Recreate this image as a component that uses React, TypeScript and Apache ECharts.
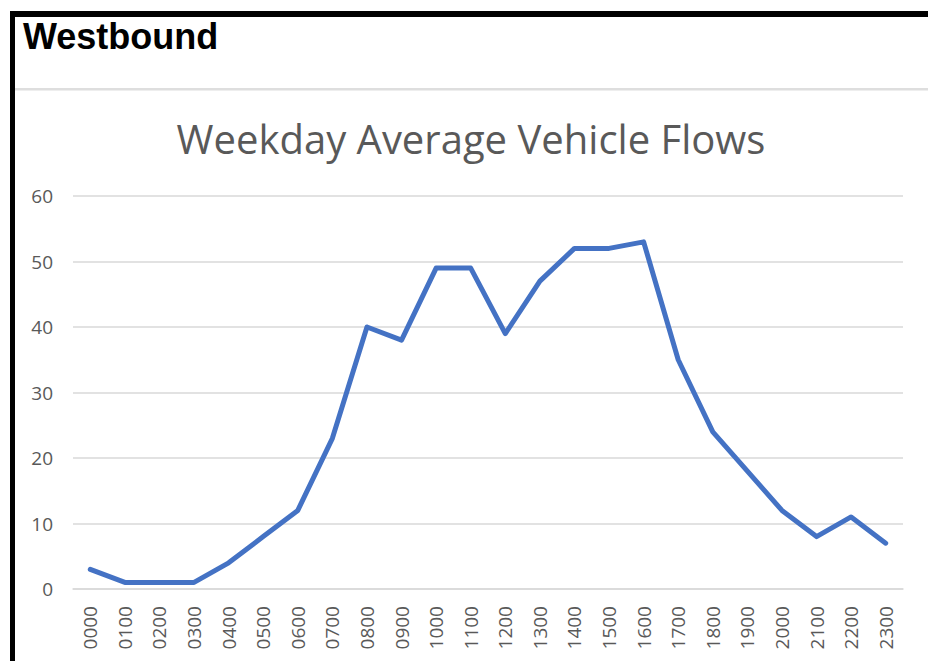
import React, { useEffect, useRef } from "react";
import * as echarts from "echarts";

const hours = ["0000","0100","0200","0300","0400","0500","0600","0700","0800","0900","1000","1100","1200","1300","1400","1500","1600","1700","1800","1900","2000","2100","2200","2300"];
const flows = [3, 1, 1, 1, 4, 8, 12, 23, 40, 38, 49, 49, 39, 47, 52, 52, 53, 35, 24, 18, 12, 8, 11, 7];
const yTicks = [0, 10, 20, 30, 40, 50, 60];

const headerText = "Westbound";
const chartTitle = "Weekday Average Vehicle Flows";

export default function App() {
  const ref = useRef<HTMLDivElement>(null);
  useEffect(() => {
    if (!ref.current) return;
    const chart = echarts.init(ref.current, null, { renderer: "svg" });
    chart.setOption({
      animation: false,
      backgroundColor: "#ffffff",
      grid: { left: 73, right: 25, top: 196, bottom: 72, containLabel: false },
      xAxis: {
        type: "category",
        data: hours,
        boundaryGap: true,
        axisLine: { show: true, lineStyle: { color: "#d9d9d9", width: 1.5 } },
        axisTick: { show: false },
        axisLabel: {
          rotate: 90,
          margin: 17,
          color: "#595959",
          fontFamily: "Open Sans",
          fontSize: 19,
          interval: 0,
        },
      },
      yAxis: {
        type: "value",
        min: yTicks[0],
        max: yTicks[yTicks.length - 1],
        interval: 10,
        axisLine: { show: false },
        axisTick: { show: false },
        splitLine: { lineStyle: { color: "#d9d9d9", width: 1.5 } },
        axisLabel: {
          margin: 20,
          color: "#595959",
          fontFamily: "Open Sans",
          fontSize: 19,
        },
      },
      series: [
        {
          type: "line",
          data: flows,
          symbol: "none",
          lineStyle: { color: "#4472C4", width: 5, join: "round", cap: "round" },
        },
      ],
      graphic: [
        { type: "rect", shape: { x: 10, y: 11, width: 918, height: 6 }, style: { fill: "#000000" } },
        { type: "rect", shape: { x: 10, y: 11, width: 5, height: 650 }, style: { fill: "#000000" } },
        { type: "rect", shape: { x: 15, y: 88, width: 913, height: 2.5 }, style: { fill: "#dedede" } },
        {
          type: "text",
          style: {
            x: 23,
            y: 36,
            text: headerText,
            fill: "#000000",
            font: "bold 36px 'Liberation Sans', Arial, sans-serif",
            verticalAlign: "middle",
            align: "left",
          },
        },
        {
          type: "text",
          style: {
            x: 471,
            y: 138,
            text: chartTitle,
            fill: "#595959",
            font: "40px 'Open Sans', sans-serif",
            verticalAlign: "middle",
            align: "center",
          },
        },
      ],
    });
    return () => chart.dispose();
  }, []);
  return (
    <div
      ref={ref}
      style={{ position: "fixed", left: 0, top: 0, width: 928, height: 661 }}
    />
  );
}
